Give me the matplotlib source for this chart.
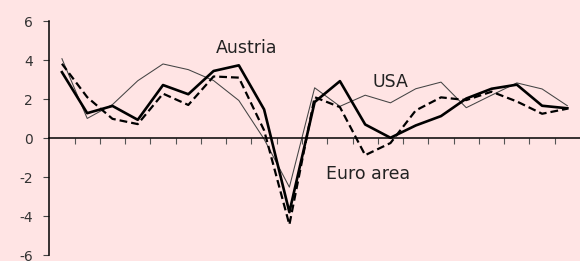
import matplotlib
matplotlib.use('Agg')
import matplotlib.pyplot as plt
import numpy as np

# real GDP growth, % (annual, 21 periods)
austria = [3.38, 1.28, 1.65, 0.94, 2.72, 2.25, 3.44, 3.73, 1.47, -3.79, 1.85,
           2.92, 0.70, 0.02, 0.65, 1.13, 2.03, 2.53, 2.74, 1.66, 1.53]
euro_area = [3.81, 2.10, 0.99, 0.72, 2.28, 1.70, 3.16, 3.10, 0.40, -4.43, 2.10,
             1.59, -0.87, -0.25, 1.42, 2.09, 1.95, 2.38, 1.88, 1.25, 1.51]
usa = [4.07, 1.01, 1.72, 2.94, 3.80, 3.51, 2.95, 1.93, -0.05, -2.51, 2.58,
       1.63, 2.20, 1.81, 2.53, 2.87, 1.56, 2.20, 2.83, 2.52, 1.66]
y_ticks = [-6, -4, -2, 0, 2, 4, 6]

BG = '#FFE4E4'


def plot():
    fig = plt.figure(figsize=(5.8, 2.61), dpi=100, facecolor=BG)
    ax = fig.add_axes([0.085, 0.0218, 0.915, 0.8977], facecolor=BG)

    x = np.arange(len(austria))
    ax.plot(x, usa, color='#444444', lw=0.75)
    ax.plot(x, euro_area, color='black', lw=1.6, ls=(0, (3.5, 1.8)))
    ax.plot(x, austria, color='black', lw=1.9)

    ax.set_xlim(-0.5, len(austria) - 0.5)
    ax.set_ylim(-6, 6)
    ax.set_yticks(y_ticks)
    ax.set_yticklabels([str(v) for v in y_ticks])
    ax.set_xticks(np.arange(0.5, len(austria) - 1, 1.0))
    ax.set_xticklabels([])

    for side in ('top', 'right'):
        ax.spines[side].set_visible(False)
    ax.spines['bottom'].set_position(('data', 0))
    ax.spines['left'].set_linewidth(1.1)
    ax.spines['bottom'].set_linewidth(1.1)

    ax.tick_params(axis='y', direction='out', length=4, width=0.8,
                   color='#444444', labelsize=10, labelcolor='#333333', pad=8)
    ax.tick_params(axis='x', direction='out', length=4, width=0.8,
                   color='#555555')

    ax.text(7.29, 4.6, 'Austria', fontsize=12.5, color='#222222',
            ha='center', va='center')
    ax.text(13.0, 2.86, 'USA', fontsize=12.5, color='#222222',
            ha='center', va='center')
    ax.text(12.13, -1.81, 'Euro area', fontsize=12.5, color='#222222',
            ha='center', va='center')

    fig.savefig('out.png', dpi=100, facecolor=BG)


if __name__ == '__main__':
    plot()
